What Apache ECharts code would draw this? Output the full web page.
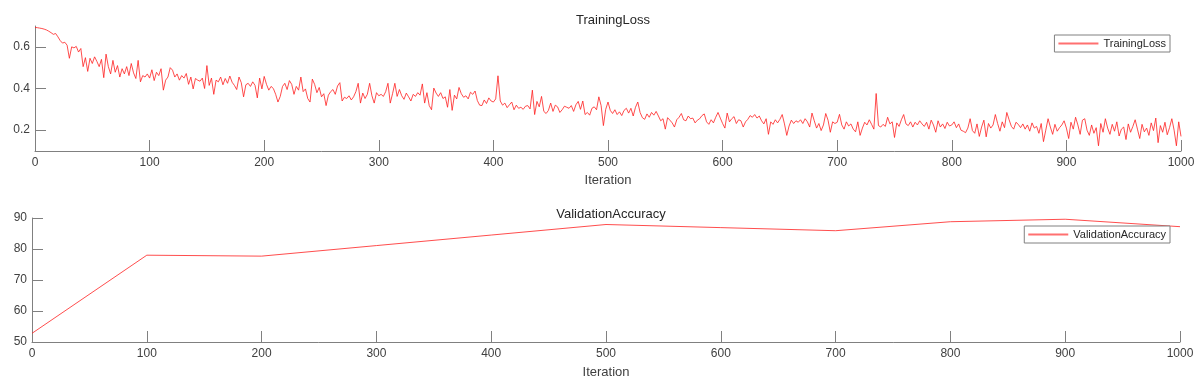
<!DOCTYPE html>
<html>
<head>
<meta charset="utf-8">
<script src="https://cdn.jsdelivr.net/npm/echarts@6/dist/echarts.min.js"></script>
<style>
html,body{margin:0;padding:0;background:#fff;}
#chart{width:1200px;height:385px;}
</style>
</head>
<body>
<div id="chart"></div>
<script>
const lossStep = 2;
const trainingLoss = [
0.693,0.692,0.690,0.688,0.685,0.681,0.675,0.668,0.660,0.664,
0.648,0.630,0.618,0.622,0.608,0.545,0.600,0.595,0.602,0.575,
0.592,0.505,0.548,0.482,0.545,0.520,0.552,0.530,0.505,0.540,
0.452,0.565,0.505,0.470,0.535,0.478,0.510,0.455,0.495,0.470,
0.505,0.462,0.520,0.475,0.448,0.535,0.432,0.462,0.455,0.470,
0.450,0.490,0.438,0.478,0.462,0.495,0.392,0.440,0.455,0.500,
0.488,0.455,0.470,0.440,0.462,0.450,0.472,0.420,0.455,0.398,
0.448,0.440,0.435,0.450,0.400,0.510,0.415,0.450,0.372,0.440,
0.432,0.455,0.418,0.448,0.425,0.460,0.430,0.415,0.395,0.455,
0.428,0.360,0.418,0.425,0.410,0.432,0.415,0.355,0.450,0.398,
0.458,0.420,0.392,0.410,0.400,0.372,0.335,0.362,0.410,0.425,
0.395,0.438,0.420,0.372,0.410,0.392,0.455,0.385,0.398,0.352,
0.335,0.445,0.420,0.380,0.405,0.360,0.375,0.318,0.368,0.385,
0.395,0.372,0.412,0.428,0.340,0.358,0.352,0.365,0.345,0.360,
0.385,0.425,0.330,0.378,0.352,0.372,0.425,0.365,0.330,0.380,
0.365,0.372,0.362,0.385,0.425,0.330,0.375,0.425,0.362,0.395,
0.365,0.348,0.378,0.360,0.340,0.372,0.362,0.380,0.368,0.422,
0.330,0.380,0.318,0.298,0.402,0.378,0.362,0.380,0.352,0.360,
0.310,0.395,0.295,0.368,0.350,0.405,0.375,0.358,0.365,0.350,
0.382,0.372,0.388,0.342,0.320,0.318,0.345,0.328,0.355,0.340,
0.335,0.350,0.461,0.340,0.320,0.330,0.308,0.322,0.335,0.298,
0.320,0.305,0.310,0.300,0.315,0.318,0.302,0.392,0.275,0.338,
0.312,0.362,0.290,0.280,0.295,0.330,0.290,0.320,0.312,0.285,
0.298,0.315,0.310,0.305,0.318,0.290,0.322,0.338,0.300,0.340,
0.275,0.285,0.272,0.305,0.312,0.298,0.360,0.318,0.222,0.300,
0.335,0.295,0.280,0.298,0.275,0.288,0.270,0.295,0.305,0.282,
0.305,0.268,0.310,0.335,0.285,0.260,0.252,0.278,0.262,0.285,
0.272,0.290,0.268,0.245,0.255,0.205,0.260,0.248,0.235,0.215,
0.250,0.262,0.280,0.250,0.245,0.268,0.255,0.258,0.235,0.248,
0.255,0.270,0.278,0.240,0.228,0.250,0.235,0.262,0.285,0.258,
0.232,0.210,0.282,0.240,0.255,0.265,0.232,0.250,0.245,0.215,
0.240,0.252,0.270,0.262,0.275,0.258,0.268,0.245,0.230,0.255,
0.180,0.240,0.228,0.250,0.235,0.252,0.275,0.230,0.175,0.220,
0.248,0.232,0.245,0.238,0.250,0.232,0.255,0.240,0.215,0.282,
0.245,0.210,0.232,0.198,0.225,0.280,0.248,0.190,0.240,0.232,
0.238,0.276,0.225,0.205,0.240,0.220,0.230,0.205,0.192,0.240,
0.175,0.210,0.238,0.225,0.250,0.228,0.205,0.376,0.222,0.215,
0.228,0.218,0.262,0.230,0.240,0.165,0.235,0.218,0.250,0.275,
0.230,0.222,0.240,0.215,0.238,0.225,0.245,0.230,0.218,0.238,
0.205,0.248,0.225,0.190,0.245,0.215,0.230,0.208,0.238,0.220,
0.225,0.240,0.212,0.230,0.200,0.195,0.188,0.210,0.255,0.198,
0.185,0.230,0.170,0.215,0.248,0.168,0.232,0.210,0.225,0.275,
0.232,0.195,0.240,0.212,0.285,0.250,0.218,0.205,0.238,0.228,
0.212,0.230,0.205,0.225,0.195,0.235,0.210,0.218,0.185,0.232,
0.145,0.200,0.255,0.215,0.180,0.228,0.195,0.212,0.225,0.245,
0.210,0.160,0.238,0.205,0.262,0.225,0.180,0.248,0.255,0.200,
0.175,0.225,0.185,0.212,0.125,0.232,0.190,0.255,0.210,0.180,
0.228,0.195,0.240,0.172,0.205,0.215,0.155,0.230,0.190,0.218,
0.250,0.205,0.160,0.228,0.192,0.210,0.175,0.235,0.198,0.258,
0.140,0.222,0.190,0.238,0.178,0.212,0.255,0.200,0.125,0.240,
0.170
];
const valIterations = [0,100,200,300,400,500,600,700,800,900,1000];
const validationAccuracy = [52.8,78.0,77.7,81.1,84.5,87.9,86.9,85.9,88.8,89.6,87.2];
const lossTicks = [0.2,0.4,0.6];
const titles = ['TrainingLoss','ValidationAccuracy'];
const xName = 'Iteration';

const lossData = trainingLoss.map((v,i)=>[i*lossStep, v]);
const valData = validationAccuracy.map((v,i)=>[valIterations[i], v]);

const FONT = '"Liberation Sans", Arial, sans-serif';
const AXIS = '#808080';
const LBL = '#404040';
const RED = '#ff2020';
const LEG_RED = '#ff7070';

function xAxisCfg(gi, gap){
  return {
    type:'value', gridIndex:gi, min:0, max:1000, interval:100,
    name:xName, nameLocation:'middle', nameGap:gap,
    nameTextStyle:{color:LBL, fontSize:13, fontFamily:FONT},
    axisLine:{lineStyle:{color:AXIS, width:1}},
    axisTick:{inside:true, length:11, lineStyle:{color:AXIS}},
    axisLabel:{color:LBL, fontSize:12, fontFamily:FONT, margin:6, formatter:v=>String(v)},
    splitLine:{show:false}
  };
}
function legendCfg(name, top){
  return {data:[{name:name, icon:'rect', itemStyle:{color:LEG_RED, borderWidth:0, opacity:1}}],
    right:30, top:top, orient:'vertical',
    itemWidth:40, itemHeight:2, padding:[3,4,3,4],
    borderColor:'#808080', borderWidth:1, backgroundColor:'#fff',
    textStyle:{fontSize:11, color:'#262626', fontFamily:FONT}};
}

const chart = echarts.init(document.getElementById('chart'), null, {renderer:'canvas'});
chart.setOption({
  animation:false,
  backgroundColor:'#fff',
  title:[
    {text:titles[0], left:608, top:9, textAlign:'center',
     textStyle:{fontSize:13, fontWeight:'normal', color:'#262626', fontFamily:FONT}},
    {text:titles[1], left:606, top:203, textAlign:'center',
     textStyle:{fontSize:13, fontWeight:'normal', color:'#262626', fontFamily:FONT}}
  ],
  legend:[ legendCfg(titles[0], 35), legendCfg(titles[1], 226) ],
  grid:[
    {left:35, right:19, top:26, height:125, containLabel:false, outerBoundsMode:'none'},
    {left:32, right:20, top:218, height:124, containLabel:false, outerBoundsMode:'none'}
  ],
  xAxis:[ xAxisCfg(0, 23), xAxisCfg(1, 24) ],
  yAxis:[
    {type:'value', gridIndex:0, min:0.1, max:0.7,
     axisLine:{show:true, lineStyle:{color:AXIS}},
     axisTick:{show:true, inside:true, length:11, customValues:lossTicks, lineStyle:{color:AXIS}},
     axisLabel:{color:LBL, fontSize:12, fontFamily:FONT, margin:5, customValues:lossTicks,
       formatter:v=>v.toFixed(1)},
     splitLine:{show:false}},
    {type:'value', gridIndex:1, min:50, max:90, interval:10,
     axisLine:{show:true, lineStyle:{color:AXIS}},
     axisTick:{show:true, inside:true, length:11, lineStyle:{color:AXIS}},
     axisLabel:{color:LBL, fontSize:12, fontFamily:FONT, margin:5},
     splitLine:{show:false}}
  ],
  series:[
    {name:titles[0], type:'line', xAxisIndex:0, yAxisIndex:0, data:lossData,
     symbol:'none', lineStyle:{color:RED, width:0.8}, itemStyle:{color:RED}},
    {name:titles[1], type:'line', xAxisIndex:1, yAxisIndex:1, data:valData,
     symbol:'none', lineStyle:{color:RED, width:0.8}, itemStyle:{color:RED}}
  ]
});
</script>
</body>
</html>
